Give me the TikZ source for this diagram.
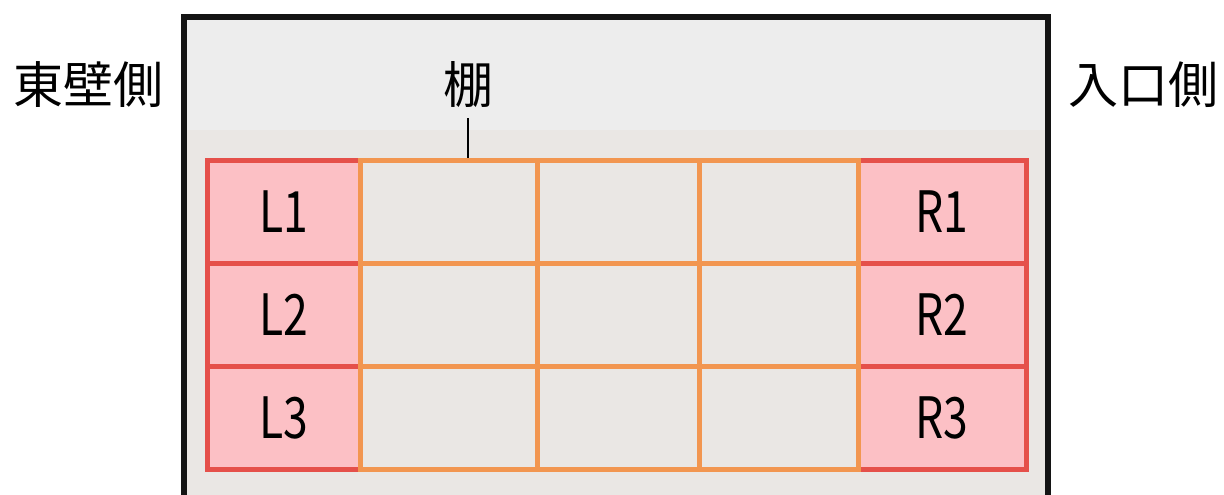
\documentclass[tikz,border=0pt]{standalone}
\usepackage{fontspec}
\setmainfont{Noto Sans CJK JP}
\newfontfamily\celllabelfont[FakeStretch=0.78]{Noto Sans CJK JP}
\definecolor{wallred}{HTML}{E5504A}
\definecolor{cellpink}{HTML}{FCC0C5}
\definecolor{shelforange}{HTML}{F29650}
\definecolor{topgray}{HTML}{EDEDED}
\definecolor{lowgray}{HTML}{EAE7E4}
\definecolor{frameblack}{HTML}{141414}
\tikzset{
  endcell/.style={draw=wallred, fill=cellpink, line width=5pt, minimum width=153pt, minimum height=103pt, inner sep=0pt, font=\celllabelfont\fontsize{57}{57}\selectfont},
  midcell/.style={draw=shelforange, line width=5pt, inner sep=0pt, minimum height=103pt},
  sidelabel/.style={font=\fontsize{50}{50}\selectfont, inner sep=0pt},
}
\begin{document}
\begin{tikzpicture}[x=1pt,y=1pt]
\useasboundingbox (0,0) rectangle (1224,495);
\fill[white] (0,0) rectangle (1224,495);
% room interior
\fill[lowgray] (184,-10) rectangle (1048,365);
\fill[topgray] (184,365) rectangle (1048,478);
\draw[frameblack, line width=6pt] (184,-10) -- (184,478) -- (1048,478) -- (1048,-10);
% labels
\node[sidelabel] (east) at (88,410) {東壁側};
\node[sidelabel] (entry) at (1143,410) {入口側};
\node[sidelabel] (tana) at (468,410) {棚};
% end cells
\node[endcell] (L1) at (283.5,283) {L1};
\node[endcell] (L2) at (283.5,180) {L2};
\node[endcell] (L3) at (283.5,77) {L3};
\node[endcell, minimum width=168pt] (R1) at (942,283) {R1};
\node[endcell, minimum width=168pt] (R2) at (942,180) {R2};
\node[endcell, minimum width=168pt] (R3) at (942,77) {R3};
% middle shelf cells
\foreach \r/\y in {1/283,2/180,3/77}{
  \node[midcell, minimum width=177pt] (A\r) at (448.5,\y) {};
  \node[midcell, minimum width=162pt] (B\r) at (618,\y) {};
  \node[midcell, minimum width=159pt] (C\r) at (778.5,\y) {};
}
\draw[black, line width=1.8pt] ([yshift=-10pt]tana.south) -- (tana.south |- A1.north);
\end{tikzpicture}
\end{document}
